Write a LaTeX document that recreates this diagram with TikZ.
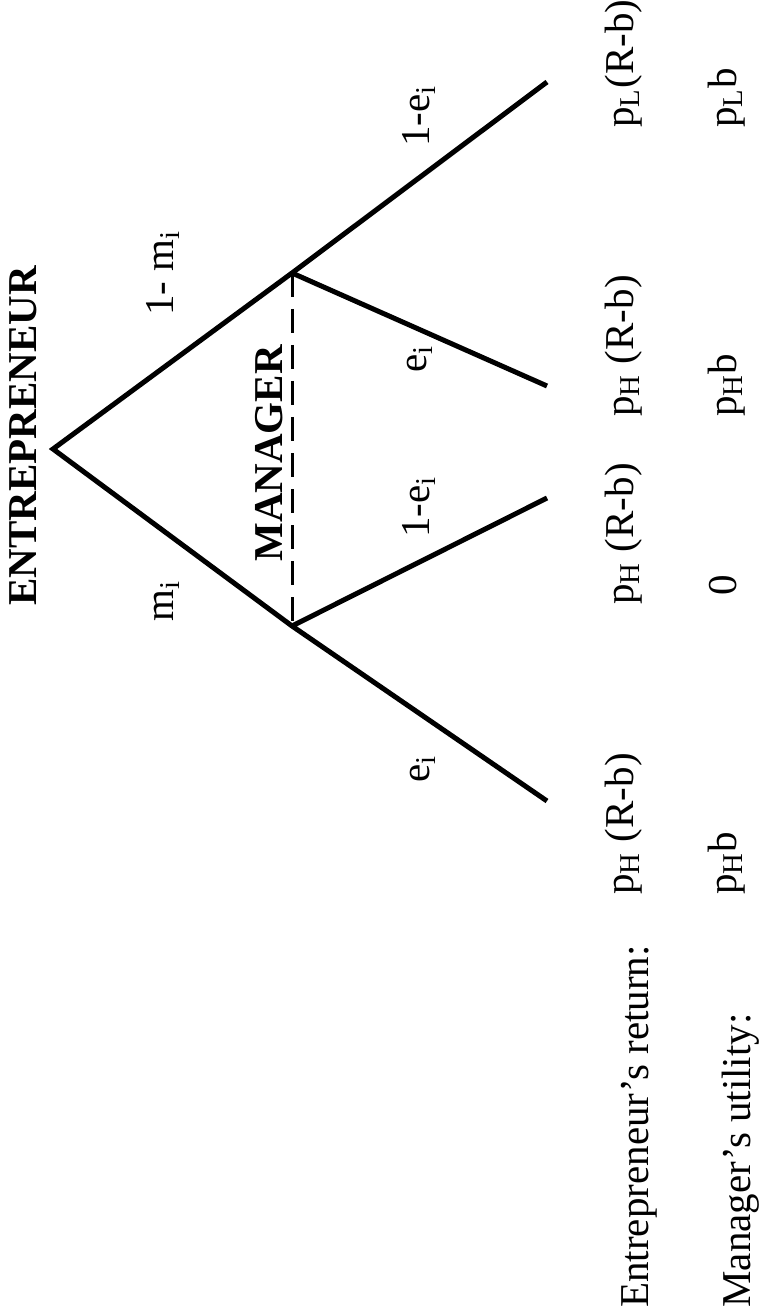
\documentclass[tikz,border=0pt]{standalone}
\usepackage{fontspec}
\setmainfont{Liberation Serif}
\usepackage{tikz}

\begin{document}
\begin{tikzpicture}[
x=0.5pt,
y=-0.5pt,
branch/.style={
line width=2.5pt
},
infoset/.style={
line width=1.5pt,
dash pattern=on 12pt off 6pt
},
txt/.style={
rotate=90,
anchor=base west,
inner sep=0pt,
font=\fontsize{20.5}{24}\selectfont
},
head/.style={
txt,
font=\fontsize{20.5}{24}\selectfont\bfseries
}
]

\useasboundingbox (0,0) rectangle (763,1315);


% Decision points

\coordinate (root) at (53,449);
\coordinate (mgrup) at (292,273);
\coordinate (mgrlow) at (292,626);

\coordinate (endA) at (547,82);
\coordinate (endB) at (547,386);
\coordinate (endC) at (547,498);
\coordinate (endD) at (547,801);


\draw[branch] (endA) -- (mgrup) -- (root) -- (mgrlow) -- (endD);
\draw[branch] (mgrup) -- (endB);
\draw[branch] (mgrlow) -- (endC);

\draw[infoset] (mgrup) -- (mgrlow);


% Players

\node (entre) [head] at (36,606) {ENTREPRENEUR};

\node (mgr) [head] at (282,562) {MANAGER};


% Probabilities

\node (pm) [txt] at (173,622) {m\textsubscript{i}};
\node (pnotm) [txt] at (173,316) {1- m\textsubscript{i}};

\node (pnoteup) [txt] at (429,147) {1-e\textsubscript{i}};
\node (peup) [txt] at (426,373) {e\textsubscript{i}};
\node (pnotelow) [txt] at (429,538) {1-e\textsubscript{i}};
\node (pelow) [txt] at (429,783) {e\textsubscript{i}};


% Payoffs

\node (retlabel) [txt] at (648,1308) {Entrepreneur’s return:};
\node (utillabel) [txt] at (750,1308) {Manager’s utility:};

\node (retD) [txt] at (633,895) {p\textsubscript{H} (R-b)};
\node (retC) [txt] at (633,605) {p\textsubscript{H} (R-b)};
\node (retB) [txt] at (633,417) {p\textsubscript{H} (R-b)};
\node (retA) [txt] at (633,128) {p\textsubscript{L}(R-b)};

\node (utilD) [txt] at (736,895) {p\textsubscript{H}b};
\node (utilC) [txt, anchor=base] at (736,585) {0};
\node (utilB) [txt] at (736,417) {p\textsubscript{H}b};
\node (utilA) [txt] at (736,128) {p\textsubscript{L}b};


\end{tikzpicture}
\end{document}
